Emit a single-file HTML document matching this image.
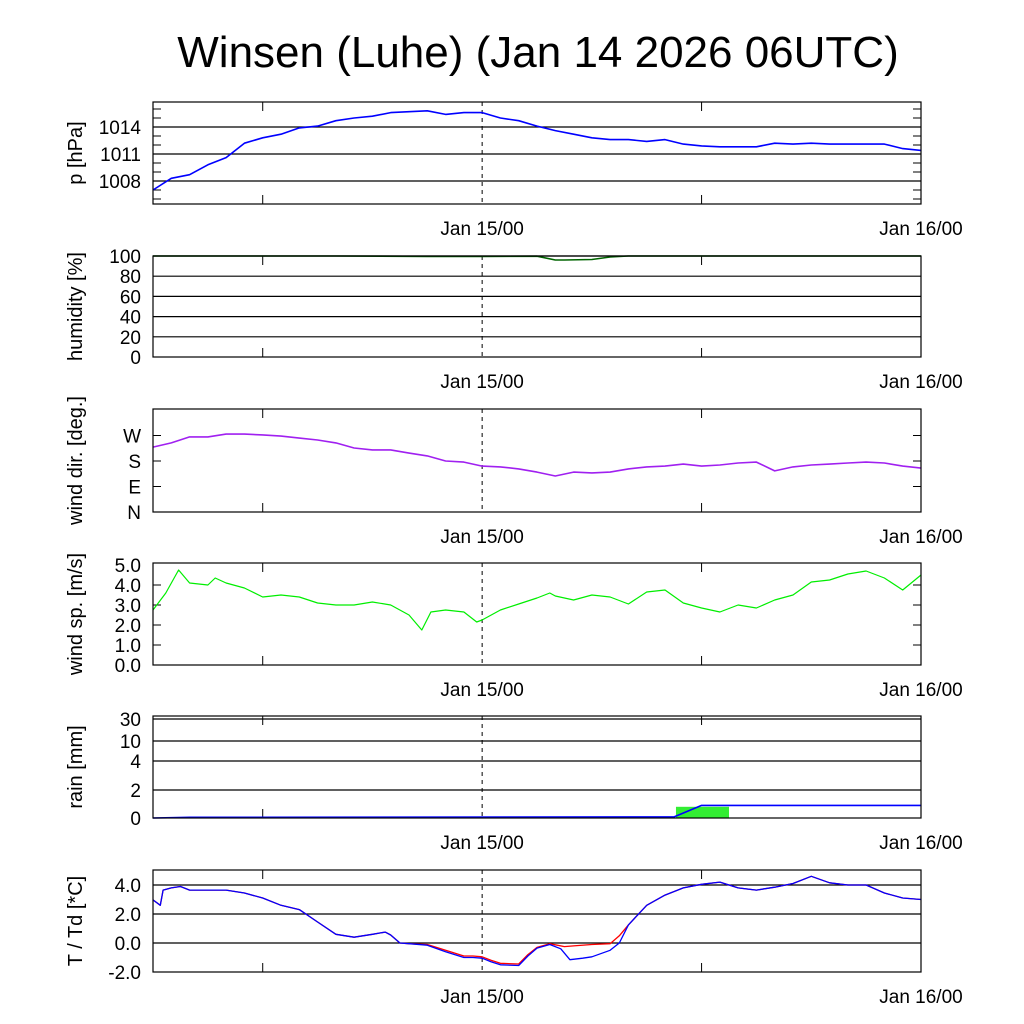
<!DOCTYPE html>
<html><head><meta charset="utf-8"><style>
body{margin:0;background:#fff;}
svg{display:block;font-family:"Liberation Sans",Arial,sans-serif;}
</style></head><body>
<svg id="chart" width="1024" height="1024" viewBox="0 0 1024 1024">
<rect width="1024" height="1024" fill="#fff"/>
<text x="538" y="67" font-size="44" text-anchor="middle">Winsen (Luhe) (Jan 14 2026 06UTC)</text>
</svg>
<script>
// hours since Jan 14 06UTC
const pTimes=[0,1,2,3,4,5,6,7,8,9,10,11,12,13,14,15,16,17,18,19,20,21,22,23,24,25,26,27,28,29,30,31,32,33,34,35,36,37,38,39,40,41,42];
const pVals=[1007.0,1008.3,1008.7,1009.8,1010.6,1012.2,1012.8,1013.2,1013.9,1014.1,1014.7,1015.0,1015.2,1015.6,1015.7,1015.8,1015.4,1015.6,1015.6,1015.0,1014.7,1014.1,1013.6,1013.2,1012.8,1012.6,1012.6,1012.4,1012.6,1012.1,1011.9,1011.8,1011.8,1011.8,1012.2,1012.1,1012.2,1012.1,1012.1,1012.1,1012.1,1011.6,1011.4];
const rhTimes=[0,5,10,15,18,21,22,22.5,24,25,26,30,36,42];
const rhVals=[100,100,100,99.6,99.5,99.8,96,96,96.5,99,100,100,100,100];
const ddTimes=pTimes;
const ddVals=[229,244,265,265,275,275,272,268,261,254,244,226,219,219,208,198,180,176,162,159,152,141,127,141,138,141,152,159,162,169,162,166,173,176,145,159,166,169,173,176,173,162,155];
const ffTimes=[0,0.7,1.4,2,3,3.4,4,5,6,7,8,9,10,11,12,13,14,14.7,15.2,16,17,17.7,18,19,20,21,21.7,22,23,24,25,26,27,28,29,30,31,32,33,34,35,36,37,38,39,40,41,42];
const ffVals=[2.75,3.6,4.75,4.1,4.0,4.35,4.1,3.85,3.4,3.5,3.4,3.1,3.0,3.0,3.15,3.0,2.5,1.75,2.65,2.75,2.65,2.15,2.25,2.75,3.05,3.35,3.6,3.45,3.25,3.5,3.4,3.05,3.65,3.75,3.1,2.85,2.65,3.0,2.85,3.25,3.5,4.15,4.25,4.55,4.7,4.35,3.75,4.5];
const rainTimes=[0,2,28.5,30,42];
const rainCum=[0,0.05,0.08,0.9,0.9];
const rainBarStart=[28.6];
const rainBarEnd=[31.5];
const rainBarVals=[0.8];
const tTimes=[0,0.4,0.55,1,1.5,2,3,4,5,6,7,8,9,10,11,12,12.7,13,13.5,14,15,16,17,17.5,18,18.5,19,20,20.5,21,21.7,22.5,23,24,25,25.5,26,27,28,29,30,31,32,33,34,35,36,37,38,39,40,41,42];
const tVals=[2.97,2.6,3.65,3.8,3.9,3.65,3.65,3.65,3.45,3.1,2.6,2.3,1.45,0.6,0.4,0.6,0.75,0.55,0.0,-0.05,-0.1,-0.5,-0.9,-0.9,-0.95,-1.2,-1.4,-1.45,-0.8,-0.3,-0.05,-0.25,-0.2,-0.1,-0.05,0.5,1.25,2.6,3.3,3.8,4.05,4.2,3.8,3.65,3.85,4.1,4.6,4.15,4.0,4.0,3.45,3.1,3.0];
const tdTimes=[0,0.4,0.55,1,1.5,2,3,4,5,6,7,8,9,10,11,12,12.7,13,13.5,14,15,16,17,17.5,18,18.5,19,20,20.5,21,21.7,22.3,22.8,23.5,24,25,25.5,26,27,28,29,30,31,32,33,34,35,36,37,38,39,40,41,42];
const tdVals=[2.97,2.6,3.65,3.8,3.9,3.65,3.65,3.65,3.45,3.1,2.6,2.3,1.45,0.6,0.4,0.6,0.75,0.55,0.0,-0.05,-0.15,-0.6,-1.0,-1.0,-1.05,-1.3,-1.5,-1.55,-0.9,-0.35,-0.1,-0.4,-1.15,-1.05,-0.95,-0.5,0.0,1.25,2.6,3.3,3.8,4.05,4.2,3.8,3.65,3.85,4.1,4.6,4.15,4.0,4.0,3.45,3.1,3.0];

const NS="http://www.w3.org/2000/svg";
const svg=document.getElementById('chart');
const X0=153,X1=921,H=42;
function xs(h){return X0+(X1-X0)*h/H;}
function mk(tag,attrs,parent){const e=document.createElementNS(NS,tag);for(const k in attrs)e.setAttribute(k,attrs[k]);(parent||svg).appendChild(e);return e;}

function panel(cfg){
  const g=mk('g',{});
  
  
  const ys=cfg.ys;
  cfg.grid.forEach(v=>{const l=mk('line',{x1:X0,x2:X1,y1:ys(v),y2:ys(v),stroke:'#000','stroke-width':1.2},g);
    
    });
  (cfg.minor||[]).forEach(v=>{const y=ys(v);
    mk('line',{x1:X0,x2:X0+8,y1:y,y2:y,stroke:'#000','stroke-width':1},g);
    mk('line',{x1:X1-8,x2:X1,y1:y,y2:y,stroke:'#000','stroke-width':1},g);});
  [6,30].forEach(h=>{const x=xs(h);
    mk('line',{x1:x,x2:x,y1:cfg.bot-9,y2:cfg.bot,stroke:'#000','stroke-width':1},g);
    mk('line',{x1:x,x2:x,y1:cfg.top,y2:cfg.top+9,stroke:'#000','stroke-width':1},g);});
  const dl=mk('line',{x1:xs(18),x2:xs(18),y1:cfg.top,y2:cfg.bot,stroke:'#000','stroke-width':1,'stroke-dasharray':'4,4'},g);
  
  
  cfg.ticks.forEach((v,i)=>{const t=mk('text',{x:141,y:ys(v)+7,'font-size':19,'text-anchor':'end'},g);t.textContent=cfg.tickLabels[i];
    
    });
  [['Jan 15/00',18],['Jan 16/00',42]].forEach(a=>{const t=mk('text',{x:xs(a[1]),y:cfg.bot+31,'font-size':19,'text-anchor':'middle'},g);t.textContent=a[0];
    
    });
  const cy=(cfg.top+cfg.bot)/2;
  const at=mk('text',{x:82,y:cy,'font-size':20,'text-anchor':'middle',transform:`rotate(-90 82 ${cy})`},g);
  at.textContent=cfg.title;
  
  
  cfg.draw(g,ys);
  const fr=mk('rect',{x:X0,y:cfg.top,width:X1-X0,height:cfg.bot-cfg.top,fill:'none',stroke:'#000','stroke-width':1.2},g);
  
  
}
function line(g,ts,vs,ys,color,name,w){
  const d=ts.map((t,i)=>(i?'L':'M')+xs(t).toFixed(1)+','+ys(vs[i]).toFixed(1)).join('');
  const p=mk('path',{d:d,fill:'none',stroke:color,'stroke-width':w||1.6,'stroke-linejoin':'round'},g);
  
  
}
function lin(v0,y0,v1,y1){return v=>y0+(v-v0)*(y1-y0)/(v1-v0);}

panel({name:'pressure',top:102,bot:204,ys:lin(1014,127,1008,181),grid:[1008,1011,1014],minor:[1006,1007,1009,1010,1012,1013,1015,1016],
  ticks:[1008,1011,1014],tickLabels:['1008','1011','1014'],title:'p [hPa]',
  draw:(g,ys)=>line(g,pTimes,pVals,ys,'#0000ff','pressure-line')});
panel({name:'humidity',top:256,bot:357,ys:lin(0,357,100,256),grid:[20,40,60,80,100],
  ticks:[0,20,40,60,80,100],tickLabels:['0','20','40','60','80','100'],title:'humidity [%]',
  draw:(g,ys)=>line(g,rhTimes,rhVals,ys,'#006400','humidity-line')});
panel({name:'wind-direction',top:409,bot:512,ys:lin(0,512,360,410),grid:[],minor:[90,180,270],
  ticks:[0,90,180,270],tickLabels:['N','E','S','W'],title:'wind dir. [deg.]',
  draw:(g,ys)=>line(g,ddTimes,ddVals,ys,'#a020f0','wind-direction-line')});
panel({name:'wind-speed',top:563,bot:665,ys:lin(0,665,5,565),grid:[],minor:[1,2,3,4],
  ticks:[0,1,2,3,4,5],tickLabels:['0.0','1.0','2.0','3.0','4.0','5.0'],title:'wind sp. [m/s]',
  draw:(g,ys)=>line(g,ffTimes,ffVals,ys,'#00ee00','wind-speed-line',1.2)});
const rainTickV=[0,2,4,10,30],rainTickY=[818,790,761,741,719];
function rainY(v){for(let i=1;i<rainTickV.length;i++){if(v<=rainTickV[i])return rainTickY[i-1]+(v-rainTickV[i-1])*(rainTickY[i]-rainTickY[i-1])/(rainTickV[i]-rainTickV[i-1]);}return rainTickY[4];}
panel({name:'rain',top:716,bot:818,ys:rainY,grid:[2,4,10,30],
  ticks:[0,2,4,10,30],tickLabels:['0','2','4','10','30'],title:'rain [mm]',
  draw:(g,ys)=>{
    rainBarVals.forEach((v,i)=>{const r=mk('rect',{x:xs(rainBarStart[i]),y:ys(v),width:xs(rainBarEnd[i])-xs(rainBarStart[i]),height:ys(0)-ys(v),fill:'#33ee33'},g);
      
      });
    line(g,rainTimes,rainCum,ys,'#0000ff','rain-cumulative-line');}});
panel({name:'temperature',top:870,bot:972,ys:lin(0,943,4,885),grid:[0,2,4],
  ticks:[-2,0,2,4],tickLabels:['-2.0','0.0','2.0','4.0'],title:'T / Td [*C]',
  draw:(g,ys)=>{line(g,tTimes,tVals,ys,'#ff0000','temperature-line',1.3);line(g,tdTimes,tdVals,ys,'#0000ff','dewpoint-line',1.3);}});
</script>
</body></html>
